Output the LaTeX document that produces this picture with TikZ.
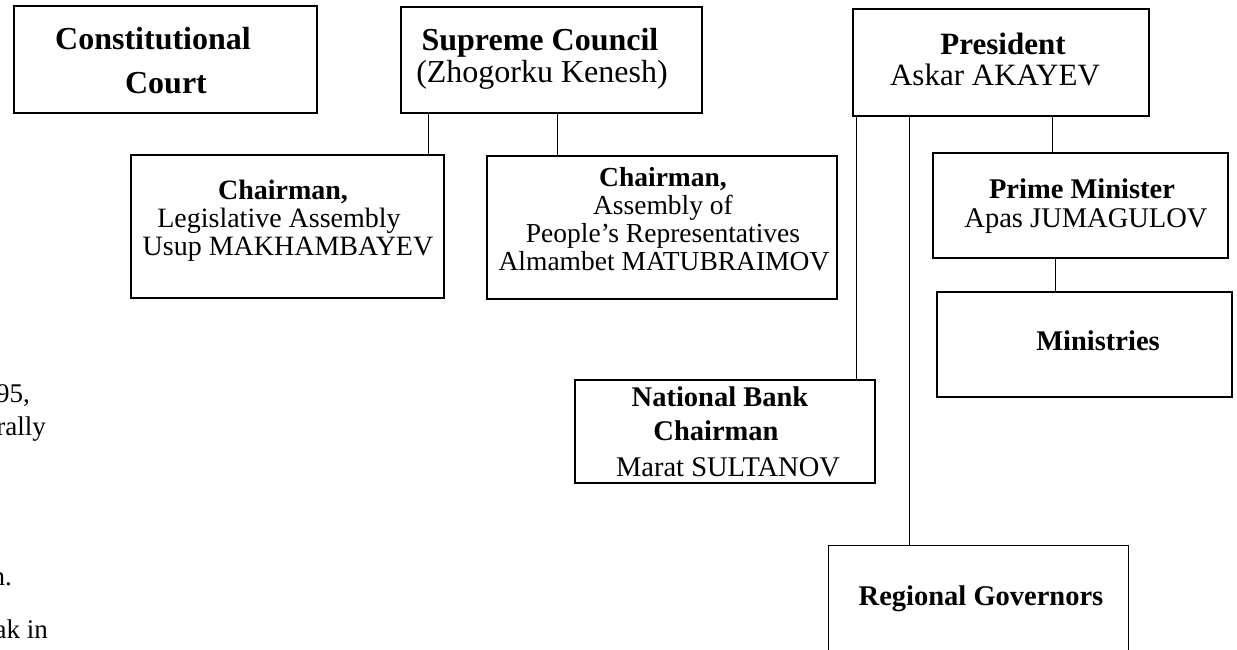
\documentclass[tikz,border=0pt]{standalone}
\usepackage{fontspec}
\setmainfont{Liberation Serif}
\begin{document}
\begin{tikzpicture}[x=1pt,y=-1pt,
  box/.style={draw=black,line width=1.1pt,inner sep=0pt},
  openbox/.style={draw=none,inner sep=0pt},
  conn/.style={draw=black,line width=1.1pt},
  txt/.style={anchor=base,inner sep=0pt,font=\fontsize{#1}{#1}\selectfont},
  btxt/.style={anchor=base,inner sep=0pt,font=\fontsize{#1}{#1}\selectfont\bfseries},
  frag/.style={anchor=base east,inner sep=0pt,font=\fontsize{27}{27}\selectfont}]
\clip (0,0) rectangle (1237,650);
\fill[white] (0,0) rectangle (1237,650);

% boxes
\node[box,minimum width=303,minimum height=107] (cc)   at (165.5,59.5) {};
\node[box,minimum width=301,minimum height=106] (sc)   at (551.5,60) {};
\node[box,minimum width=296,minimum height=107] (pres) at (1001,62.5) {};
\node[box,minimum width=313,minimum height=143] (la)   at (287.5,226.5) {};
\node[box,minimum width=350,minimum height=143] (apr)  at (662,227.5) {};
\node[box,minimum width=295,minimum height=105] (pm)   at (1080.5,205.5) {};
\node[box,minimum width=295,minimum height=105] (min)  at (1084.5,344.5) {};
\node[box,minimum width=300,minimum height=103] (nb)   at (725,431.5) {};
\node[openbox,minimum width=299,minimum height=104] (rg) at (978.5,598) {};
\draw[conn] (rg.south west) -- (rg.north west) -- (rg.north east) -- (rg.south east);

% texts
\node[btxt=32] (cc1) at (153,50) {Constitutional};
\node[btxt=32] (cc2) at (166,94) {Court};
\node[btxt=32] (sc1) at (540,51) {Supreme Council};
\node[txt=32]  (sc2) at (542,83) {(Zhogorku Kenesh)};
\node[btxt=31] (pr1) at (1003,55) {President};
\node[txt=31]  (pr2) at (995,86) {Askar AKAYEV};
\node[btxt=28] (la1) at (283,199) {Chairman,};
\node[txt=28]  (la2) at (279,227) {Legislative Assembly};
\node[txt=28]  (la3) at (288,255) {Usup MAKHAMBAYEV};
\node[btxt=27.5] (ap1) at (663,186) {Chairman,};
\node[txt=27.5]  (ap2) at (663,214) {Assembly of};
\node[txt=27.5]  (ap3) at (663,242) {People's Representatives};
\node[txt=27.5]  (ap4) at (664,270) {Almambet MATUBRAIMOV};
\node[btxt=28.5] (pm1) at (1082,198) {Prime Minister};
\node[txt=28.5]  (pm2) at (1086,227) {Apas JUMAGULOV};
\node[btxt=28.5] (mi1) at (1098,350) {Ministries};
\node[btxt=28.5] (nb1) at (720,406) {National Bank};
\node[btxt=28.5] (nb2) at (716,440) {Chairman};
\node[txt=28.5]  (nb3) at (728,476) {Marat SULTANOV};
\node[btxt=28.5] (rg1) at (981,605) {Regional Governors};

% cut-off text at left edge
\node[frag] (f1) at (30,402) {995,};
\node[frag] (f2) at (46,435) {rally};
\node[frag] (f3) at (12,585) {n.};
\node[frag] (f4) at (48,638) {ak in};

% connectors
\draw[conn] ([xshift=28pt]sc.south west) -- ([xshift=28pt]sc.south west |- la.north);
\draw[conn] ([xshift=157pt]sc.south west) -- ([xshift=157pt]sc.south west |- apr.north);
\draw[conn] ([xshift=4pt]pres.south west) -- ([xshift=4pt]pres.south west |- nb.north);
\draw[conn] ([xshift=57pt]pres.south west) -- ([xshift=57pt]pres.south west |- rg.north);
\draw[conn] ([xshift=200pt]pres.south west) -- ([xshift=200pt]pres.south west |- pm.north);
\draw[conn] ([xshift=123pt]pm.south west) -- ([xshift=123pt]pm.south west |- min.north);
\end{tikzpicture}
\end{document}
